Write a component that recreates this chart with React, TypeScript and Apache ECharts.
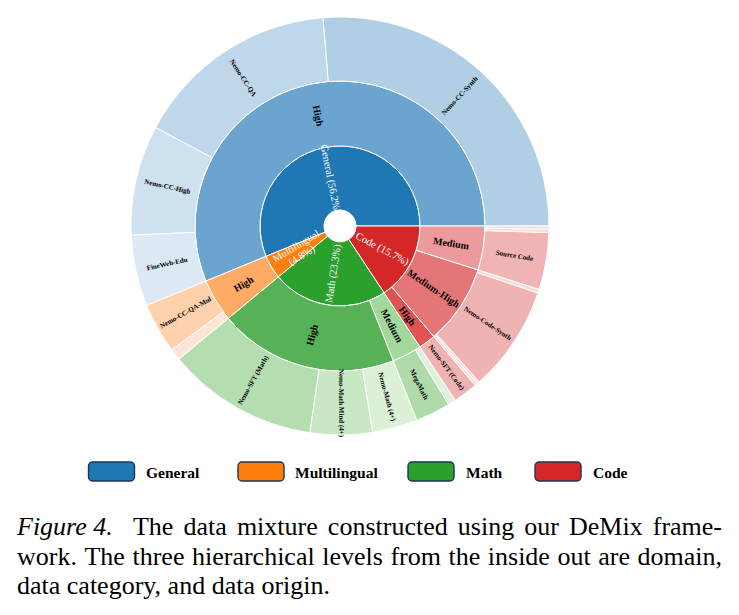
import React, { useEffect, useRef } from 'react';
import * as echarts from 'echarts';

const W = 739;
const H = 615;
const FONT = "'Liberation Serif', 'Times New Roman', serif";

// ---- data (shares of the total mixture, %) ----
const domains = ['General', 'Multilingual', 'Math', 'Code'];
const categories = [['High'], ['High'], ['High', 'Medium'], ['High', 'Medium-High', 'Medium']];
const origins = [
  [['Nemo-CC-Synth', 'Nemo-CC-QA', 'Nemo-CC-High', 'FineWeb-Edu']],
  [['Nemo-CC-QA-Mul', 'Other (Mul)']],
  [['Nemo-SFT (Math)', 'Nemo-Math Mind (4+)', 'Nemo-Math (4+)'], ['MegaMath', 'Other (Math)']],
  [
    ['Nemo-SFT (Code)'],
    ['Other (Code) A', 'Other (Code) B', 'Nemo-Code-Synth', 'Other (Code) C'],
    ['Source Code', 'Other (Code) D', 'Other (Code) E'],
  ],
];
const shares = [
  [[26.3, 15.9, 8.5, 5.5]],
  [[3.9, 0.9]],
  [[11.7, 4.8, 3.5], [2.7, 0.6]],
  [[1.9], [0.2, 0.2, 8.2, 0.3], [4.4, 0.25, 0.25]],
];
// long labels that ECharts would wrap: drawn as free text along the same radius
const longLabels = ['Nemo-Math Mind (4+)'];

// ---- styles / geometry ----
const domainColors = ['#1f77b4', '#ff7f0e', '#2ca02c', '#d62728'];
const categoryColors = [['#6ba5cf'], ['#ffab66'], ['#57b157', '#a3d89d'], ['#e05253', '#e57677', '#ec9a9b']];
const originColors = [
  [['#b0cfe5', '#bed7ea', '#cee1ef', '#dce9f4']],
  [['#ffd2ad', '#ffe5d5']],
  [['#b4ddb0', '#c9e7c4', '#dcf0d8'], ['#afdaa9', '#dff0dc']],
  [['#f0b3b4'], ['#f9dadb', '#f9dadb', '#f0b3b4', '#f9dadb'], ['#f0b4b5', '#f9dadb', '#f9dadb']],
];
const CX = 340;
const CY = 226;
const RINGS = [16, 80, 145, 209];

const captionLines = [
  'The data mixture constructed using our DeMix frame-',
  'work. The three hierarchical levels from the inside out are domain,',
  'data category, and data origin.',
];

function measure(text: string, font: string): number {
  const ctx = document.createElement('canvas').getContext('2d');
  if (!ctx) return text.length * 10;
  ctx.font = font;
  return ctx.measureText(text).width;
}

function buildData() {
  const total = shares.flat(2).reduce((a, b) => a + b, 0);
  return domains.map((d, i) => {
    const dSum = shares[i].flat().reduce((a, b) => a + b, 0);
    const pct = ((dSum / total) * 100).toFixed(1);
    const label = d === 'Multilingual' ? `${d}\n(${pct}%)` : `${d} (${pct}%)`;
    return {
      name: d,
      itemStyle: { color: domainColors[i] },
      label: { formatter: label },
      children: categories[i].map((c, j) => ({
        name: c,
        itemStyle: { color: categoryColors[i][j] },
        children: origins[i][j].map((o, k) => ({
          name: o,
          value: shares[i][j][k],
          itemStyle: { color: originColors[i][j][k] },
          label: { show: !o.startsWith('Other') && !longLabels.includes(o) },
        })),
      })),
    };
  });
}

function longLabelGraphics() {
  const total = shares.flat(2).reduce((a, b) => a + b, 0);
  const els: any[] = [];
  let acc = 0;
  origins.forEach((dom, i) =>
    dom.forEach((cat, j) =>
      cat.forEach((o, k) => {
        const v = shares[i][j][k];
        if (longLabels.includes(o)) {
          const mid = ((acc + v / 2) / total) * Math.PI * 2; // counter-clockwise from east
          const r = (RINGS[2] + RINGS[3]) / 2;
          let rot = mid;
          if (mid > Math.PI / 2 && mid < (Math.PI * 3) / 2) rot += Math.PI;
          els.push({
            type: 'text',
            x: CX + r * Math.cos(mid),
            y: CY - r * Math.sin(mid),
            rotation: rot,
            z: 10,
            style: {
              text: o,
              fontSize: 7,
              fontWeight: 'bold',
              fontFamily: FONT,
              fill: '#000',
              align: 'center',
              verticalAlign: 'middle',
            },
          });
        }
        acc += v;
      })
    )
  );
  return els;
}

function captionGraphics() {
  const fs = 26;
  const left = 17;
  const right = 722;
  const bottoms = [539, 569, 598];
  const els: any[] = [];
  captionLines.forEach((line, li) => {
    const words: { t: string; italic: boolean }[] = [];
    if (li === 0) words.push({ t: 'Figure 4.', italic: true });
    line.split(' ').forEach((w) => words.push({ t: w, italic: false }));
    const widths = words.map((w) => measure(w.t, `${w.italic ? 'italic ' : ''}${fs}px ${FONT}`));
    const totalW = widths.reduce((a, b) => a + b, 0);
    const space = measure(' ', `${fs}px ${FONT}`);
    const justify = li < 2;
    const weights = words.map((_, i) => (i === 0 ? 0 : li === 0 && i === 1 ? 2 : 1));
    const wsum = weights.reduce((a, b) => a + b, 0);
    const unit = justify ? (right - left - totalW) / wsum : space;
    let x = left;
    words.forEach((w, i) => {
      x += weights[i] * unit;
      els.push({
        type: 'text',
        x,
        y: bottoms[li],
        style: {
          text: w.t,
          fontSize: fs,
          fontFamily: FONT,
          fontStyle: w.italic ? 'italic' : 'normal',
          fill: '#000',
          verticalAlign: 'bottom',
          textAlign: 'left',
        },
      });
      x += widths[i];
    });
  });
  return els;
}

function legendGraphics() {
  const iconX = [88.5, 238, 408, 535];
  const textX = [146, 295, 466, 593];
  const els: any[] = [];
  domains.forEach((d, i) => {
    els.push({
      type: 'rect',
      shape: { x: iconX[i], y: 462, width: 46, height: 19, r: 4 },
      style: { fill: domainColors[i], stroke: '#1d3557', lineWidth: 1.4 },
    });
    els.push({
      type: 'text',
      x: textX[i],
      y: 472,
      style: {
        text: d,
        fontSize: 15.5,
        fontWeight: 'bold',
        fontFamily: FONT,
        fill: '#000',
        verticalAlign: 'middle',
        textAlign: 'left',
      },
    });
  });
  return els;
}

export default function App() {
  const ref = useRef<HTMLDivElement>(null);
  useEffect(() => {
    if (!ref.current) return;
    const chart = echarts.init(ref.current, undefined, { renderer: 'svg' });
    chart.setOption({
      animation: false,
      backgroundColor: '#fff',
      series: [
        {
          type: 'sunburst',
          center: [CX, CY],
          radius: [RINGS[0], RINGS[3]],
          startAngle: 0,
          clockwise: false,
          sort: null,
          nodeClick: false,
          data: buildData(),
          itemStyle: { borderColor: '#fff', borderWidth: 1 },
          label: { rotate: 'radial', fontFamily: FONT },
          levels: [
            {},
            {
              r0: RINGS[0],
              r: RINGS[1],
              label: { color: '#fff', fontSize: 10.5, fontFamily: FONT, lineHeight: 11 },
            },
            {
              r0: RINGS[1],
              r: RINGS[2],
              label: { color: '#000', fontSize: 10, fontWeight: 'bold', fontFamily: FONT },
            },
            {
              r0: RINGS[2],
              r: RINGS[3],
              label: { color: '#000', fontSize: 7, fontWeight: 'bold', fontFamily: FONT },
            },
          ],
        },
      ],
      graphic: [...longLabelGraphics(), ...legendGraphics(), ...captionGraphics()],
    });
    return () => chart.dispose();
  }, []);
  return (
    <div
      ref={ref}
      style={{ position: 'fixed', left: 0, top: 0, width: W, height: H, background: '#fff' }}
    />
  );
}
